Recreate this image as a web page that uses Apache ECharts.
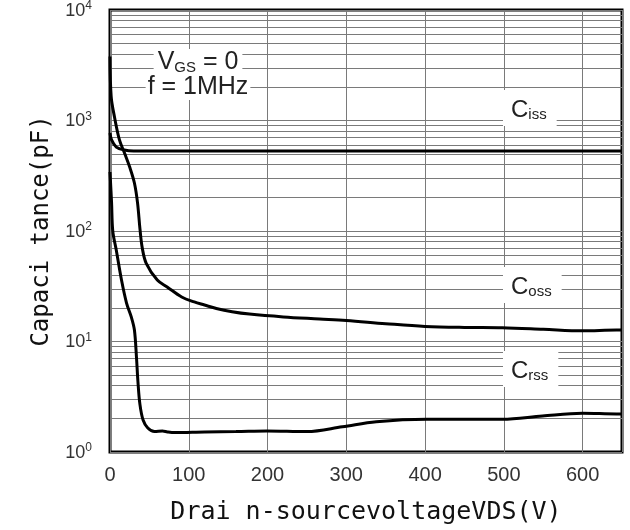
<!DOCTYPE html>
<html><head><meta charset="utf-8">
<script src="https://cdn.jsdelivr.net/npm/echarts@6/dist/echarts.min.js"></script>
<style>html,body{margin:0;padding:0;background:#fff}#c{width:630px;height:530px}</style>
</head><body><div id="c"></div>
<script>
// Drain-source voltage (V) and capacitance (pF)
const cissV = [0, 2, 8, 18, 30, 100, 200, 300, 400, 500, 600, 650];
const cissC = [771, 667, 575, 541, 530, 530, 530, 530, 530, 530, 530, 530];

const cossV = [0, 1.5, 5.7, 12, 18.4, 25, 31, 35, 38, 41, 46, 60, 73, 91, 107, 120, 135, 155, 177, 220, 266, 300, 350, 400, 450, 498, 550, 600, 643, 650];
const cossC = [3800, 1642, 1076, 667, 508, 379, 272, 179, 105, 70, 51, 36, 31, 25.3, 22.8, 21.4, 19.9, 18.6, 17.7, 16.7, 16.0, 15.5, 14.5, 13.7, 13.4, 13.3, 12.9, 12.5, 12.7, 12.7];

const crssV = [0, 2, 3.5, 8, 14.6, 21, 27, 31, 33.6, 35.5, 38, 42, 48, 56.5, 66.6, 73, 82, 120, 160, 199, 250, 295, 338, 402, 498, 549, 600, 643, 650];
const crssC = [342, 180, 100, 67, 36, 22.3, 16.7, 12.7, 7.2, 4.3, 2.7, 1.95, 1.65, 1.53, 1.55, 1.52, 1.5, 1.52, 1.53, 1.55, 1.53, 1.69, 1.88, 1.98, 1.98, 2.12, 2.24, 2.21, 2.21];

const xTicks = [0, 100, 200, 300, 400, 500, 600];
const yDecades = [1, 10, 100, 1000, 10000];
const minorSteps = [2, 3, 4, 5, 6, 7, 8, 9];

function pairs(xs, ys) { return xs.map((x, i) => [x, ys[i]]); }

const minorLines = [];
yDecades.slice(0, -1).forEach(d => minorSteps.forEach(m => minorLines.push({ yAxis: d * m })));

const gridColor = '#7a7a7a';
const curveStyle = { color: '#000', width: 3 };
const labelRich = {
  c: { fontFamily: 'Liberation Sans', fontSize: 24, lineHeight: 28, fill: '#222', verticalAlign: 'bottom' },
  s: { fontFamily: 'Liberation Sans', fontSize: 15, lineHeight: 21, fill: '#222', verticalAlign: 'bottom' }
};
const vgsRich = {
  v: { fontFamily: 'Liberation Sans', fontSize: 25, lineHeight: 26, fill: '#222', verticalAlign: 'bottom' },
  g: { fontFamily: 'Liberation Sans', fontSize: 15, lineHeight: 21, fill: '#222', verticalAlign: 'bottom' }
};

const chart = echarts.init(document.getElementById('c'), null, { renderer: 'canvas' });
chart.setOption({
  animation: false,
  backgroundColor: '#fff',
  grid: { left: 110, right: 8, top: 10, bottom: 78, show: true, borderColor: '#000', borderWidth: 3, backgroundColor: 'transparent', outerBoundsMode: 'none' },
  xAxis: {
    type: 'value', min: xTicks[0], max: 650, interval: 100,
    name: 'Drai n-sourcevoltageVDS(V)', nameLocation: 'middle', nameGap: 48,
    nameTextStyle: { fontFamily: 'DejaVu Sans Mono', fontSize: 25, color: '#111' },
    axisLine: { show: false }, axisTick: { show: false },
    axisLabel: { showMaxLabel: false, margin: 13, fontFamily: 'Liberation Sans', fontSize: 20, color: '#333',
      formatter: v => xTicks.indexOf(v) >= 0 ? String(v) : '' },
    splitLine: { show: true, lineStyle: { color: gridColor, width: 1 } }
  },
  yAxis: {
    type: 'log', logBase: 10, min: yDecades[0], max: yDecades[yDecades.length - 1],
    name: 'Capaci tance(pF)', nameLocation: 'middle', nameGap: 56, nameRotate: 90,
    nameTextStyle: { fontFamily: 'DejaVu Sans Mono', fontSize: 24, color: '#111' },
    axisLine: { show: false }, axisTick: { show: false },
    axisLabel: {
      margin: 18, color: '#333',
      formatter: v => '{b|10}{e|' + Math.round(Math.log10(v)) + '}',
      rich: {
        b: { fontFamily: 'Liberation Sans', fontSize: 18, color: '#333', verticalAlign: 'bottom', lineHeight: 20 },
        e: { fontFamily: 'Liberation Sans', fontSize: 12, color: '#333', verticalAlign: 'top', lineHeight: 20 }
      }
    },
    splitLine: { show: true, lineStyle: { color: gridColor, width: 1 } }
  },
  series: [
    { type: 'line', name: 'grid', data: [], z: 1, silent: true,
      markLine: { silent: true, symbol: 'none', label: { show: false }, animation: false,
        lineStyle: { color: gridColor, width: 1, type: 'solid' }, data: minorLines } },
    { type: 'line', name: 'Ciss', data: pairs(cissV, cissC), showSymbol: false, smooth: 0.35, lineStyle: curveStyle, itemStyle: { color: '#000' }, z: 5 },
    { type: 'line', name: 'Coss', data: pairs(cossV, cossC), showSymbol: false, smooth: 0.35, lineStyle: curveStyle, itemStyle: { color: '#000' }, z: 5 },
    { type: 'line', name: 'Crss', data: pairs(crssV, crssC), showSymbol: false, smooth: 0.35, lineStyle: curveStyle, itemStyle: { color: '#000' }, z: 5 }
  ],
  graphic: [
    { type: 'text', x: 198, y: 62, z: 50, style: {
      text: '{v|V}{g|GS}{v| = 0}', align: 'center', verticalAlign: 'middle', backgroundColor: '#fff', padding: [0, 4, 0, 4], rich: vgsRich } },
    { type: 'text', x: 198, y: 87, z: 50, style: {
      text: '{v|f = 1MHz}', align: 'center', verticalAlign: 'middle', backgroundColor: '#fff', padding: [0, 2, 0, 2], rich: vgsRich } },
    { type: 'text', left: 503, top: 90, z: 50, style: { text: '{c|C}{s|iss}', backgroundColor: '#fff', padding: [4, 10, 4, 8], rich: labelRich } },
    { type: 'text', left: 503, top: 267, z: 50, style: { text: '{c|C}{s|oss}', backgroundColor: '#fff', padding: [4, 10, 4, 8], rich: labelRich } },
    { type: 'text', left: 503, top: 351, z: 50, style: { text: '{c|C}{s|rss}', backgroundColor: '#fff', padding: [4, 10, 4, 8], rich: labelRich } }
  ]
});
</script></body></html>
